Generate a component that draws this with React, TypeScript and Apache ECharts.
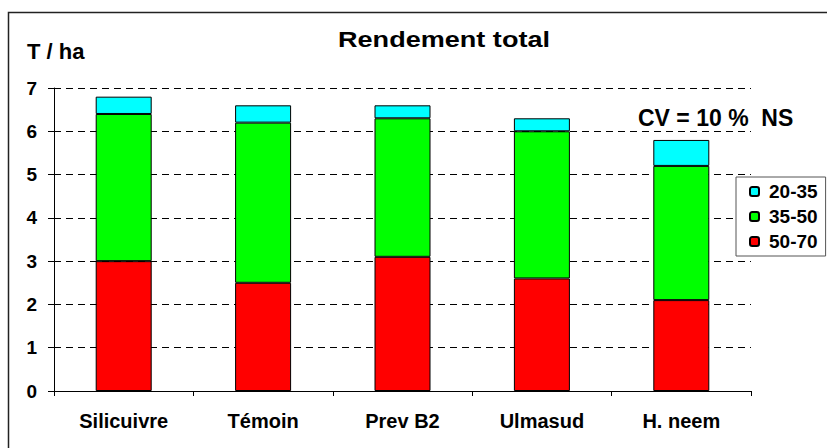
import React, { useEffect, useRef } from "react";
import * as echarts from "echarts";

const categories = ["Silicuivre", "Témoin", "Prev B2", "Ulmasud", "H. neem"];
const seriesNames = ["20-35", "35-50", "50-70"];
const values5070 = [3.0, 2.5, 3.1, 2.6, 2.1];
const values3550 = [3.4, 3.7, 3.2, 3.4, 3.1];
const values2035 = [0.4, 0.4, 0.3, 0.3, 0.6];
const yMin = 0;
const yMax = 7;
const yInterval = 1;
const titleText = "Rendement total";
const unitText = "T / ha";
const cvText = "CV = 10 %  NS";

const FONT = "'Liberation Sans', Arial, sans-serif";

export default function App() {
  const ref = useRef<HTMLDivElement>(null);
  useEffect(() => {
    if (!ref.current) return;
    const chart = echarts.init(ref.current, undefined, { renderer: "svg" });
    const barStyle = (color: string) => ({
      color,
      borderColor: "#000",
      borderWidth: 1,
    });
    chart.setOption({
      animation: false,
      backgroundColor: "#fff",
      textStyle: { fontFamily: FONT },
      grid: { left: 54, right: 76, top: 88, bottom: 57, containLabel: false },
      legend: {
        data: seriesNames,
        orient: "vertical",
        left: 736,
        top: 177,
        padding: [5, 8, 5, 13],
        itemWidth: 9,
        itemHeight: 9,
        itemGap: 6,
        backgroundColor: "#fff",
        borderColor: "#555",
        borderWidth: 1,
        textStyle: { fontFamily: FONT, fontSize: 19, fontWeight: "bold", color: "#000", padding: [0, 0, 0, 5] },
        selectedMode: false,
        z: 10,
      },
      xAxis: {
        type: "category",
        data: categories,
        axisLine: { lineStyle: { color: "#000", width: 1 } },
        axisTick: { show: true, length: 5, alignWithLabel: false, interval: 0, lineStyle: { color: "#000" } },
        axisLabel: { interval: 0, margin: 20, fontFamily: FONT, fontSize: 20, fontWeight: "bold", color: "#000" },
        splitLine: { show: false },
      },
      yAxis: {
        type: "value",
        min: yMin,
        max: yMax,
        interval: yInterval,
        axisLine: { show: true, lineStyle: { color: "#000", width: 1 } },
        axisTick: { show: true, length: 6, lineStyle: { color: "#000" } },
        axisLabel: { margin: 17, fontFamily: FONT, fontSize: 19, fontWeight: "bold", color: "#000" },
        splitLine: { show: true, lineStyle: { color: "#000", type: [7, 5], width: 1 } },
      },
      series: [
        { name: "50-70", type: "bar", stack: "total", barWidth: 56, data: values5070, itemStyle: barStyle("#FF0000") },
        { name: "35-50", type: "bar", stack: "total", barWidth: 56, data: values3550, itemStyle: barStyle("#00FF00") },
        { name: "20-35", type: "bar", stack: "total", barWidth: 56, data: values2035, itemStyle: barStyle("#00FFFF") },
      ],
      graphic: [
        {
          type: "rect",
          shape: { x: 8.5, y: 12.5, width: 840, height: 460 },
          style: { fill: "none", stroke: "#222", lineWidth: 1.5 },
          silent: true,
          z: 100,
        },
        {
          type: "text",
          x: 444,
          y: 39,
          scaleX: 1.23,
          style: { text: titleText, font: `bold 22px ${FONT}`, fill: "#000", textAlign: "center", textVerticalAlign: "middle" },
        },
        {
          type: "text",
          x: 27,
          y: 51,
          style: { text: unitText, font: `bold 22px ${FONT}`, fill: "#000", textAlign: "left", textVerticalAlign: "middle" },
        },
        {
          type: "text",
          x: 638,
          y: 118,
          style: { text: cvText, font: `bold 23px ${FONT}`, fill: "#000", textAlign: "left", textVerticalAlign: "middle" },
        },
      ],
    });
    return () => chart.dispose();
  }, []);
  return (
    <div
      ref={ref}
      style={{ position: "fixed", left: 0, top: 0, width: 827, height: 448, background: "#fff" }}
    />
  );
}
